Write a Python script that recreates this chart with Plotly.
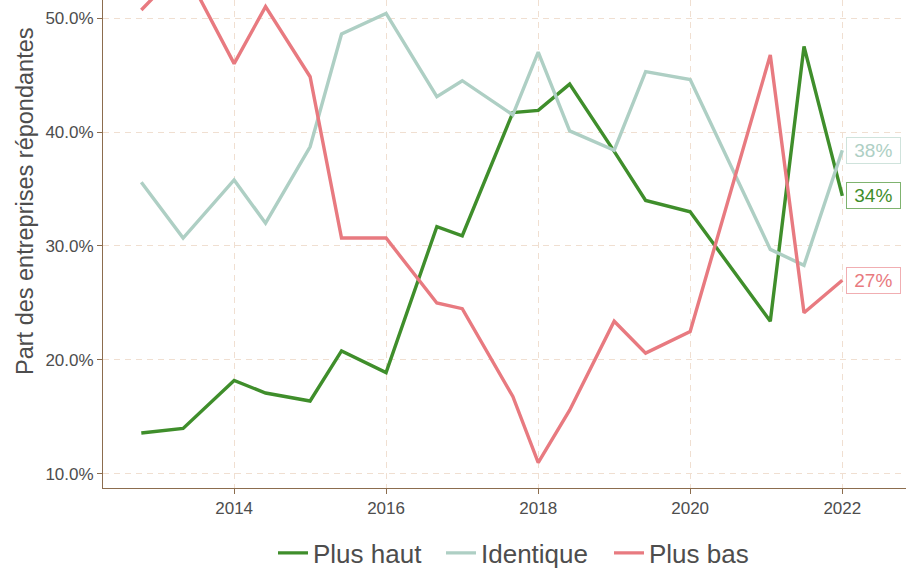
import plotly.graph_objects as go

dates = ["2012-10-12", "2013-05-01", "2014-01-01", "2014-06-01", "2015-01-01",
         "2015-06-01", "2016-01-01", "2016-09-01", "2017-01-01", "2017-09-01",
         "2018-01-01", "2018-06-01", "2019-01-01", "2019-06-01", "2020-01-01",
         "2021-01-20", "2021-07-01", "2022-01-01"]

plus_haut = [13.6, 14.0, 18.2, 17.1, 16.4, 20.8, 18.9, 31.7, 30.9, 41.7,
             41.9, 44.2, 38.3, 34.0, 33.0, 23.4, 47.5, 34.4]
identique = [35.6, 30.7, 35.8, 32.0, 38.7, 48.6, 50.4, 43.1, 44.5, 41.5,
             47.0, 40.1, 38.4, 45.3, 44.6, 29.7, 28.3, 38.4]
plus_bas = [50.7, 54.5, 46.0, 51.0, 44.85, 30.7, 30.7, 25.0, 24.5, 16.8,
            11.0, 15.6, 23.4, 20.6, 22.5, 46.75, 24.15, 27.0]

series_names = ["Plus haut", "Identique", "Plus bas"]
series_values = [plus_haut, identique, plus_bas]
colors = ["#3f8e2b", "#aecfc4", "#e87a80"]
border_colors = ["#7fb36f", "#cfe3dc", "#f1aeb2"]

y_ticks = [10, 20, 30, 40, 50]
y_tick_text = ["10.0%", "20.0%", "30.0%", "40.0%", "50.0%"]
x_ticks = ["2014-01-01", "2016-01-01", "2018-01-01", "2020-01-01", "2022-01-01"]
x_tick_text = ["2014", "2016", "2018", "2020", "2022"]

FONT = "Liberation Sans, Arial, sans-serif"
AXIS = "#8c6d4e"
GRID = "#f0dfd1"

fig = go.Figure()
for name, vals, col in zip(series_names, series_values, colors):
    fig.add_trace(go.Scatter(x=dates, y=vals, mode="lines", name=name,
                             line=dict(color=col, width=3.4)))

for vals, col, bcol in zip(series_values, colors, border_colors):
    fig.add_annotation(x=dates[-1], y=vals[-1], xref="x", yref="y",
                       text="&nbsp;%d%%&nbsp;" % round(vals[-1]),
                       showarrow=False, xanchor="left", yanchor="middle",
                       xshift=4, font=dict(family=FONT, size=19, color=col),
                       bgcolor="white", bordercolor=bcol, borderwidth=1,
                       borderpad=2)

fig.add_annotation(text="Part des entreprises répondantes", xref="paper", yref="paper",
                   x=(25 - 103) / 803, y=(488 - 201) / 488, textangle=-90,
                   showarrow=False, xanchor="center", yanchor="middle",
                   font=dict(family=FONT, size=23.5, color="#4d4d4d"))

fig.update_layout(
    width=906, height=568,
    margin=dict(l=103, r=0, t=0, b=80, autoexpand=False),
    plot_bgcolor="white", paper_bgcolor="white",
    font=dict(family=FONT, color="#4d4d4d"),
    showlegend=True,
    legend=dict(orientation="h", x=(525 - 103) / 803, xanchor="center",
                y=(488 - 553) / 488, yanchor="middle",
                entrywidth=123, entrywidthmode="pixels",
                font=dict(family=FONT, size=26, color="#4d4d4d"),
                bgcolor="rgba(0,0,0,0)"),
)
fig.update_xaxes(type="date", range=["2012-04-11", "2022-11-03"],
                 tickvals=x_ticks, ticktext=x_tick_text,
                 showline=True, linecolor=AXIS, linewidth=1,
                 ticks="outside", tickcolor=AXIS, ticklen=5,
                 showgrid=True, gridcolor=GRID, griddash="6px,5px", gridwidth=1.2,
                 tickfont=dict(family=FONT, size=17, color="#4d4d4d"),
                 zeroline=False, automargin=False)
fig.update_yaxes(range=[8.77, 51.58], tickvals=y_ticks, ticktext=y_tick_text,
                 showline=True, linecolor=AXIS, linewidth=1,
                 ticks="outside", tickcolor=AXIS, ticklen=5,
                 showgrid=True, gridcolor=GRID, griddash="6px,5px", gridwidth=1.2,
                 tickfont=dict(family=FONT, size=17, color="#4d4d4d"),
                 zeroline=False, automargin=False)

fig.write_html("out.html", config={"displayModeBar": False},
               post_script="document.body.style.margin='0';document.body.style.overflow='hidden';")
